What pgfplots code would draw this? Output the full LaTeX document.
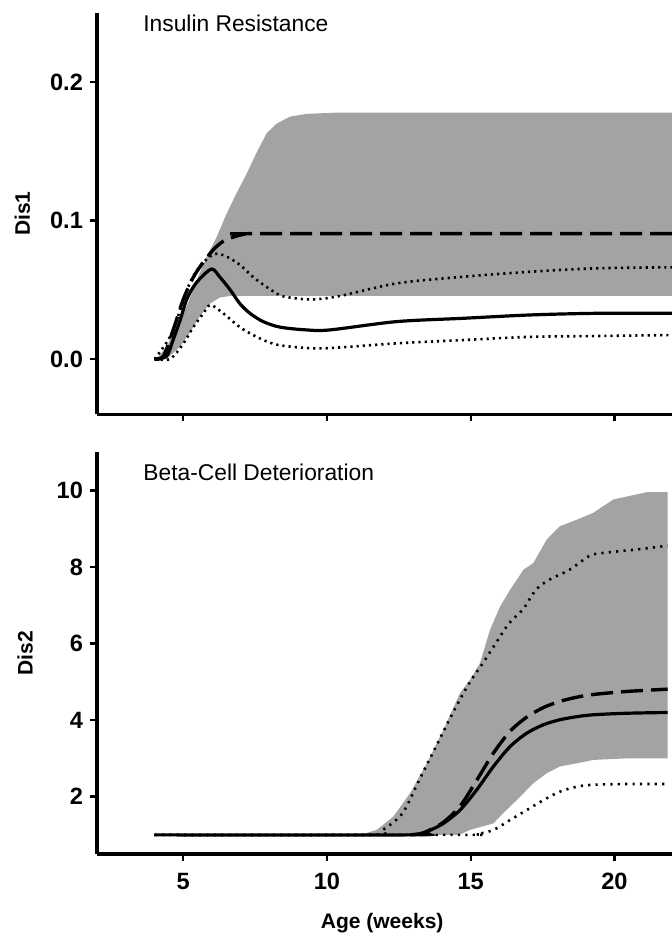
\documentclass[border=0pt]{standalone}
\usepackage{pgfplots}
\pgfplotsset{compat=1.18}
\usepackage{fontspec}
\setmainfont{Liberation Sans}
\definecolor{band}{RGB}{163,163,163}
\begin{document}
\begin{tikzpicture}
\useasboundingbox (0,0) rectangle (336pt,467pt);
\pgfplotsset{
  panel/.style={
    scale only axis, width=287.5pt, height=200.8pt,
    xmin=2, xmax=22,
    axis x line*=bottom, axis y line*=left,
    axis line style={line width=1.8pt,-},
    every tick/.style={line width=1.2pt, black},
    major tick length=3.5pt, tick align=outside,
    xtick={5,10,15,20},
    /pgf/number format/assume math mode=true,
    ticklabel style={font=\bfseries\fontsize{11.8}{13}\selectfont},
    xticklabel style={yshift=-2.5pt},
    label style={font=\bfseries\fontsize{10.5}{12}\selectfont},
    clip=true,
  },
  solidc/.style={black, line width=1.6pt, smooth, tension=0.5},
  dashc/.style={black, line width=1.7pt, dash pattern=on 11pt off 4pt, smooth, tension=0.5},
  dotc/.style={black, line width=1.3pt, dash pattern=on 1.1pt off 2pt, smooth, tension=0.5},
}
% ---------------- top panel ----------------
\begin{axis}[panel, at={(48.5pt,259.8pt)}, anchor=south west,
  ymin=-0.04, ymax=0.25, ytick={0,0.1,0.2},
  yticklabels={0.0,0.1,0.2}, xticklabels={},
  ylabel={Dis1},
  ylabel style={at={(axis description cs:-0.13,0.5)}, anchor=center, rotate=0},
]
\addplot[fill=band, draw=none] coordinates {
 (4.02,0) (4.08,0.0005) (4.42,0.009) (4.77,0.023) (5.12,0.038) (5.47,0.057)
 (5.82,0.074) (6.16,0.088) (6.51,0.105) (6.86,0.120) (7.21,0.134) (7.55,0.149)
 (7.90,0.163) (8.25,0.170) (8.71,0.175) (9.29,0.177) (10.45,0.178) (22.2,0.178)
 (22.2,0.0455) (6.63,0.0455) (6.28,0.0445) (5.93,0.040) (5.58,0.031)
 (5.23,0.019) (4.89,0.009) (4.42,0.0)} -- cycle;
\addplot[solidc] coordinates {
 (4.0,0) (4.42,0.002) (4.65,0.014) (4.89,0.028) (5.12,0.043) (5.35,0.052)
 (5.58,0.058) (5.99,0.065) (6.28,0.059) (6.63,0.050) (6.97,0.040) (7.32,0.033)
 (7.78,0.027) (8.37,0.023) (9.29,0.021) (10.1,0.021) (12.42,0.027)
 (14.74,0.0294) (17.06,0.0318) (19.38,0.033) (22,0.033)};
\addplot[dashc] coordinates {
 (4.0,0) (4.31,0.002) (4.65,0.021) (5.00,0.043) (5.35,0.059) (5.70,0.070)
 (6.05,0.079) (6.39,0.085) (6.74,0.088) (7.09,0.090) (7.6,0.0905) (22,0.0905)};
\addplot[dotc] coordinates {
 (4.0,0) (4.08,0.002) (4.54,0.016) (4.89,0.035) (5.23,0.055) (5.58,0.067)
 (5.93,0.074) (6.16,0.076) (6.51,0.074) (6.97,0.068) (7.44,0.059) (7.90,0.052)
 (8.37,0.046) (8.83,0.044) (9.52,0.043) (10.45,0.0455) (12.42,0.0546)
 (14.74,0.0594) (17.06,0.063) (19.38,0.0655) (22,0.0662)};
\addplot[dotc] coordinates {
 (4.0,0) (4.54,0.0) (5.0,0.011) (5.35,0.023) (5.70,0.033) (5.95,0.039)
 (6.39,0.033) (6.97,0.023) (7.55,0.016) (8.13,0.011) (8.71,0.009) (9.87,0.0077)
 (12.42,0.0113) (14.74,0.0137) (17.06,0.016) (19.38,0.0166) (22,0.0173)};
\node[anchor=west, font=\fontsize{11.4}{13}\selectfont, inner sep=0pt]
  at (axis description cs:0.08,0.9726) {Insulin Resistance};
\end{axis}
% ---------------- bottom panel ----------------
\begin{axis}[panel, at={(48.5pt,40pt)}, anchor=south west,
  ymin=0.5, ymax=11, ytick={2,4,6,8,10},
  xlabel={Age (weeks)}, ylabel={Dis2},
  xlabel style={at={(axis description cs:0.496,-0.172)}, anchor=center},
  ylabel style={at={(axis description cs:-0.125,0.5)}, anchor=center, rotate=0},
]
\addplot[fill=band, draw=none] coordinates {
 (11.15,1.0) (11.73,1.13) (12.31,1.48) (12.89,2.09) (13.47,2.87) (14.05,3.75)
 (14.63,4.71) (14.97,5.05) (15.32,5.49) (15.67,6.36) (16.02,6.97) (16.37,7.41)
 (16.83,7.93) (17.18,8.11) (17.64,8.72) (18.10,9.07) (18.69,9.24) (19.26,9.42)
 (19.96,9.77) (21.12,9.96) (21.85,9.96)
 (21.85,3.00) (20.43,3.00) (19.26,2.96) (18.69,2.87) (18.10,2.79) (17.64,2.61)
 (17.18,2.35) (16.60,1.91) (16.13,1.57) (15.79,1.30) (14.97,1.13) (14.6,1.0)} -- cycle;
\addplot[dotc, dash pattern=on 1.1pt off 2.6pt] coordinates {
 (4,1) (11.4,1.0) (11.94,1.13) (12.63,1.57) (13.21,2.44) (13.79,3.31) (14.37,4.18)
 (14.95,4.97) (15.42,5.49) (15.88,6.02) (16.34,6.54) (16.81,6.89) (17.27,7.41)
 (17.73,7.67) (18.43,7.93) (19.12,8.29) (19.59,8.37) (20.75,8.46) (21.85,8.56)};
\addplot[dotc, dash pattern=on 1.1pt off 2.6pt] coordinates {
 (4,1) (14.6,1.0) (15.21,1.02) (15.79,1.13) (16.37,1.39) (16.95,1.65) (17.53,1.91)
 (18.10,2.13) (18.69,2.26) (19.26,2.31) (20.43,2.33) (21.85,2.33)};
\addplot[dashc] coordinates {
 (12.9,1.0) (13.3,1.04) (13.58,1.13) (14.05,1.33) (14.63,1.75) (15.21,2.43)
 (15.79,3.14) (16.37,3.71) (16.95,4.08) (17.53,4.33) (18.10,4.49) (18.69,4.60)
 (19.26,4.67) (20.43,4.75) (21.85,4.81)};
\addplot[solidc] coordinates {
 (4,1) (12.9,1.0) (13.3,1.04) (13.58,1.12) (14.05,1.30) (14.63,1.65) (15.21,2.18)
 (15.79,2.79) (16.37,3.31) (16.95,3.66) (17.53,3.88) (18.10,4.01) (18.69,4.09)
 (19.26,4.14) (20.43,4.18) (21.85,4.20)};
\node[anchor=west, font=\fontsize{11.4}{13}\selectfont, inner sep=0pt]
  at (axis description cs:0.08,0.951) {Beta-Cell Deterioration};
\end{axis}
\end{tikzpicture}
\end{document}
